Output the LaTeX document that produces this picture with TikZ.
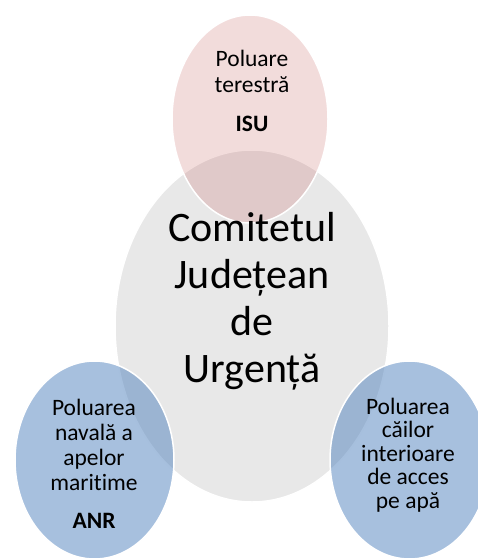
\documentclass[tikz,border=0pt]{standalone}
\usepackage{fontspec}
\setmainfont{Carlito}[Ligatures=NoCommon]
\usepackage{tikz}
\usetikzlibrary{shapes.geometric}

\definecolor{vennblue}{RGB}{79,129,189}
\definecolor{vennred}{RGB}{192,80,77}
\definecolor{venngray}{RGB}{232,232,232}

\tikzset{
  bubble/.style={ellipse, draw=white, line width=1.5bp, inner sep=0pt},
  bigtext/.style={font=\fontsize{42bp}{47bp}\selectfont, align=center, anchor=base},
  smalltext/.style={font=\fontsize{23.5bp}{25bp}\selectfont, align=center, anchor=base},
}

\begin{document}
\begin{tikzpicture}[x=1bp,y=-1bp]
    \clip (0,0) rectangle (478,559);
    % circles
    \node[bubble, fill=venngray, minimum width=274bp, minimum height=352bp] (comitet) at (252,326) {};
    \node[bubble, fill=vennred, fill opacity=0.2, minimum width=156bp, minimum height=208bp] (isu) at (250,119) {};
    \node[bubble, fill=vennblue, fill opacity=0.5, minimum width=159bp, minimum height=198bp] (anr) at (94.5,460) {};
    \node[bubble, fill=vennblue, fill opacity=0.5, minimum width=159bp, minimum height=198bp] (cai) at (409.5,460) {};
    % texts (anchor = last baseline)
    \node[bigtext] (comitettext) at (252,382) {Comitetul\\Județean\\de\\Urgență};
    \node[smalltext, font=\fontsize{23.5bp}{26bp}\selectfont] (isutext) at (252,132) {Poluare\\terestră\\[13bp]\textbf{ISU}};
    \node[smalltext] (anrtext) at (94,528) {Poluarea\\navală a\\apelor\\maritime\\[13bp]\textbf{ANR}};
    \node[smalltext, font=\fontsize{23.5bp}{23.5bp}\selectfont] (caitext) at (408,508) {Poluarea\\căilor\\interioare\\de acces\\pe apă};
\end{tikzpicture}
\end{document}
